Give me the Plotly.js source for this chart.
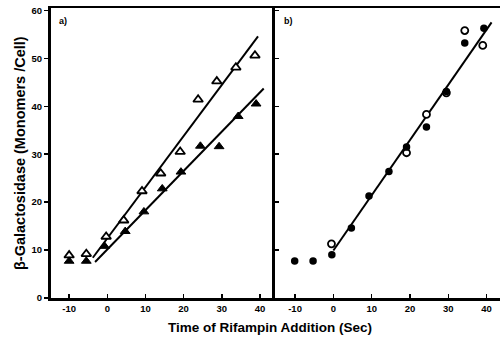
<!DOCTYPE html>
<html>
<head>
<meta charset="utf-8">
<script src="https://cdn.plot.ly/plotly-3.0.1.min.js"></script>
<style>html,body{margin:0;padding:0;background:#fff;}#chart{width:500px;height:342px;}</style>
</head>
<body>
<div id="chart"></div>
<script>
// Panel a: triangles
const aOpenX = [-10, -5.5, -0.3, 4.3, 9.1, 14, 19.1, 23.8, 28.7, 33.7, 38.7];
const aOpenY = [8.9, 9.2, 12.8, 16.2, 22.3, 26, 30.5, 41.4, 45.2, 48.1, 50.6];
const aFillX = [-10, -5.5, -0.7, 4.7, 9.6, 14.4, 19.3, 24.4, 29.3, 34.3, 39];
const aFillY = [7.7, 7.7, 10.8, 13.9, 18, 22.8, 26.3, 31.7, 31.6, 37.9, 40.5];
const aLineOpenX = [-3.8, 39.5];
const aLineOpenY = [8.4, 54.6];
const aLineFillX = [-3.2, 41.0];
const aLineFillY = [7.5, 43.7];
// Panel b: circles
const bFillX = [-10.1, -5.3, -0.4, 4.7, 9.3, 14.5, 19.1, 24.3, 29.5, 34.3, 39.3];
const bFillY = [7.7, 7.7, 9.0, 14.6, 21.3, 26.4, 31.5, 35.7, 43.1, 53.2, 56.3];
const bOpenX = [-0.5, 19.1, 24.3, 29.5, 34.3, 39.0];
const bOpenY = [11.3, 30.3, 38.3, 42.8, 55.8, 52.7];
const bLineX = [0, 41.3];
const bLineY = [9.9, 57.5];
// Ticks
const xTickVals = [-10, 0, 10, 20, 30, 40];
const yTickVals = [0, 10, 20, 30, 40, 50, 60];

const F = "Liberation Sans, Arial, sans-serif";
const blk = '#000';

const traces = [
  {x: aLineOpenX, y: aLineOpenY, mode: 'lines', line: {color: blk, width: 2}, xaxis: 'x', yaxis: 'y', hoverinfo: 'skip'},
  {x: aLineFillX, y: aLineFillY, mode: 'lines', line: {color: blk, width: 2}, xaxis: 'x', yaxis: 'y', hoverinfo: 'skip'},
  {x: aOpenX, y: aOpenY, mode: 'markers', marker: {symbol: 'triangle-up', size: 8.5, color: '#fff', line: {color: blk, width: 1.8}}, xaxis: 'x', yaxis: 'y'},
  {x: aFillX, y: aFillY, mode: 'markers', marker: {symbol: 'triangle-up', size: 8.5, color: blk, line: {color: blk, width: 1}}, xaxis: 'x', yaxis: 'y'},
  {x: bLineX, y: bLineY, mode: 'lines', line: {color: blk, width: 2}, xaxis: 'x2', yaxis: 'y2', hoverinfo: 'skip'},
  {x: bOpenX, y: bOpenY, mode: 'markers', marker: {symbol: 'circle', size: 7, color: '#fff', line: {color: blk, width: 1.8}}, xaxis: 'x2', yaxis: 'y2'},
  {x: bFillX, y: bFillY, mode: 'markers', marker: {symbol: 'circle', size: 7.5, color: blk, line: {color: blk, width: 0}}, xaxis: 'x2', yaxis: 'y2'}
];

const tickFont = {family: F, size: 9.5, color: blk, weight: 'bold'};
const commonX = {
  tickmode: 'array', tickvals: xTickVals, ticktext: xTickVals.map(String),
  ticks: 'inside', ticklen: 4, tickwidth: 1.5, tickcolor: blk,
  showline: true, linecolor: blk, linewidth: 2.5, mirror: true,
  showgrid: false, zeroline: false, tickfont: tickFont, fixedrange: true
};

const layout = {
  width: 500, height: 342,
  margin: {l: 51, r: 0, t: 8, b: 44},
  paper_bgcolor: '#fff', plot_bgcolor: '#fff',
  showlegend: false,
  xaxis: Object.assign({}, commonX, {domain: [0, 224/449], range: [-14.75, 43.95], anchor: 'y'}),
  xaxis2: Object.assign({}, commonX, {domain: [224/449, 1], range: [-15.24, 43.5], anchor: 'y2'}),
  yaxis: {
    domain: [0, 1], range: [0, 60.5], anchor: 'x',
    tickmode: 'array', tickvals: yTickVals, ticktext: yTickVals.map(String),
    ticks: 'outside', ticklen: 4, tickwidth: 1.5, tickcolor: blk,
    showline: true, linecolor: blk, linewidth: 3,
    showgrid: false, zeroline: false, tickfont: tickFont, fixedrange: true
  },
  yaxis2: {
    domain: [0, 1], range: [0, 60.5], anchor: 'x2',
    tickmode: 'array', tickvals: yTickVals,
    ticks: 'inside', ticklen: 4, tickwidth: 1.5, tickcolor: blk,
    showline: true, linecolor: blk, linewidth: 3,
    showticklabels: false, showgrid: false, zeroline: false, fixedrange: true
  },
  annotations: [
    {text: 'a)', xref: 'x', yref: 'y', x: -11.6, y: 57.8, showarrow: false, font: {family: F, size: 9, color: blk, weight: 'bold'}},
    {text: 'b)', xref: 'x2', yref: 'y2', x: -11.6, y: 57.8, showarrow: false, font: {family: F, size: 9, color: blk, weight: 'bold'}},
    {text: 'Time of Rifampin Addition (Sec)', xref: 'paper', yref: 'paper', x: 219/449, y: -29/290, xanchor: 'center', yanchor: 'middle', showarrow: false, font: {family: F, size: 13.5, color: blk, weight: 'bold'}},
    {text: 'β-Galactosidase (Monomers /Cell)', xref: 'paper', yref: 'paper', x: -31/449, y: 0.5, xanchor: 'center', yanchor: 'middle', textangle: -90, showarrow: false, font: {family: F, size: 14.5, color: blk, weight: 'bold'}}
  ]
};

Plotly.newPlot('chart', traces, layout, {displayModeBar: false, staticPlot: true});
</script>
</body>
</html>
